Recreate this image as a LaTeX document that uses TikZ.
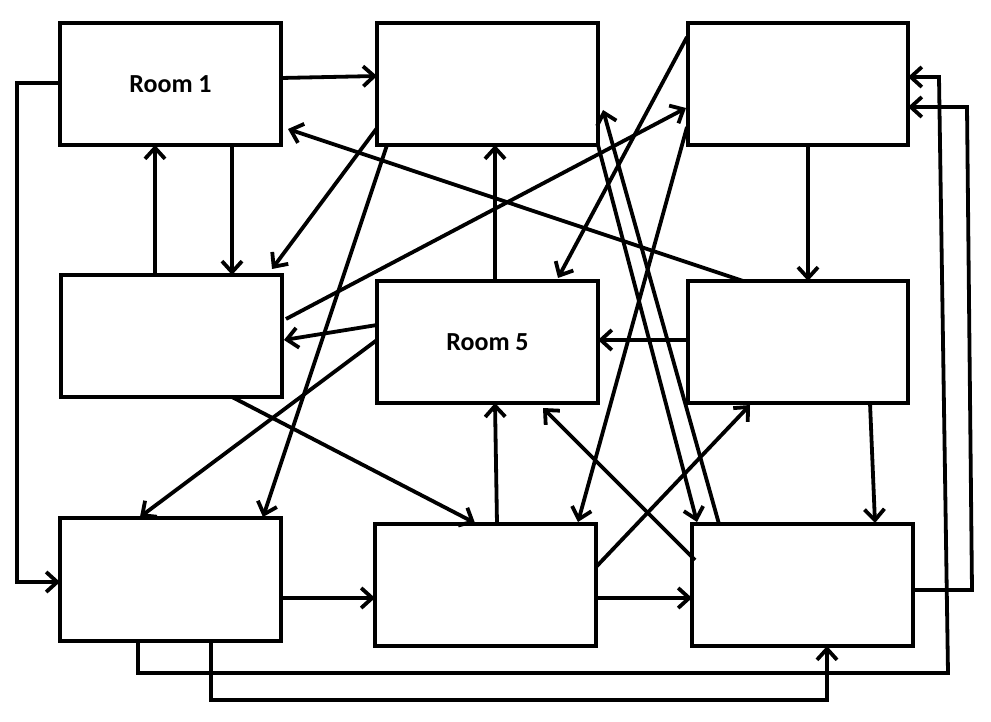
\documentclass[tikz,border=0pt]{standalone}
\usepackage{fontspec}
\setmainfont{Carlito}
\usetikzlibrary{arrows.meta,calc}
\begin{document}
\begin{tikzpicture}[x=1pt,y=-1pt,
  room/.style={draw,line width=3.8pt,minimum width=221pt,minimum height=122pt,outer sep=0pt,
    font=\bfseries\fontsize{26}{30}\selectfont,inner sep=0pt},
  conn/.style={line width=3.8pt,line join=miter},
  arr/.style={conn,-{Straight Barb[length=11pt,width=20pt,line join=miter]}}]
\useasboundingbox[fill=white] (0,0) rectangle (991,722);
\node[room] (B1) at (170.5,84) {Room 1};
\node[room] (B2) at (487.5,84) {};
\node[room,minimum width=220pt] (B3) at (798,84) {};
\node[room] (B4) at (171.5,336) {};
\node[room] (B5) at (487.5,342) {Room 5};
\node[room,minimum width=220pt] (B6) at (798,342) {};
\node[room,minimum height=123pt] (B7) at (170.5,579.5) {};
\node[room] (B8) at (485.5,585) {};
\node[room] (B9) at (802.5,585) {};
% 1
\draw[arr] ($(B1.north east)+(0,55)$) -- ($(B2.north west)+(0,53)$);
% 2
\draw[arr] ($(B1.north west)+(0,60)$) -- ++(-43,0) |- ($(B7.north west)+(0,64)$);
% 3, 4
\draw[arr] ($(B1.south west)+(172,0)$) -- ($(B4.north west)+(171,0)$);
\draw[arr] ($(B4.north west)+(94,0)$) -- ($(B1.south west)+(95,0)$);
% 5
\draw[arr] ($(B6.north west)+(55,0)$) -- ($(B1.south east)+(7,-16)$);
% 6, 7
\draw[arr] ($(B2.south west)+(0,-17)$) -- ($(B4.north west)+(211,-6)$);
\draw[arr] ($(B2.south west)+(10,0)$) -- ($(B7.north west)+(203,-1)$);
% 8
\draw[arr] ($(B4.north east)+(4,44)$) -- ($(B3.north west)+(-2,85)$);
% 9, 10
\draw[arr] ($(B5.north west)+(0,44)$) -- ($(B4.north east)+(2,65)$);
\draw[arr] ($(B5.north west)+(0,59)$) -- ($(B7.north west)+(80,-1)$);
% 11
\draw[arr] ($(B4.south west)+(171,0)$) -- ($(B8.north west)+(100,-1)$);
% 12, 13
\draw[arr] ($(B5.north west)+(118,0)$) -- ($(B2.south west)+(118,0)$);
\draw[arr] ($(B8.north west)+(122,0)$) -- ($(B5.south west)+(118,0)$);
% 14, 15
\draw[arr] ($(B3.north west)+(-1,14)$) -- ($(B5.north west)+(181,-3)$);
\draw[arr] ($(B3.north west)+(-1,104)$) -- ($(B8.north west)+(203,-2)$);
% 16, 17
\draw[arr] (B2.south east) -- ($(B9.north west)+(5,-2)$);
\draw[arr] ($(B9.north west)+(27,0)$) -- ($(B2.north east)+(5,87)$);
% 18, 19, 20
\draw[arr] ($(B3.south west)+(120,0)$) -- ($(B6.north west)+(120,0)$);
\draw[arr] ($(B6.north west)+(0,59)$) -- ($(B5.north east)+(0,59)$);
\draw[arr] ($(B6.south west)+(182,0)$) -- ($(B9.north west)+(183,-1)$);
% 21, 22
\draw[arr] ($(B8.north east)+(0,43)$) -- ($(B6.south west)+(62,2)$);
\draw[arr] ($(B9.north west)+(3,36)$) -- ($(B5.south west)+(166,5)$);
% 23, 24
\draw[arr] ($(B7.north east)+(0,80)$) -- ($(B8.north west)+(0,74)$);
\draw[arr] ($(B8.north east)+(0,74)$) -- ($(B9.north west)+(0,74)$);
% 25
\draw[arr] ($(B9.north east)+(0,66)$) -- ++(59,0) -- ++(-5,-483) -- ($(B3.north east)+(0,84)$);
% 26
\draw[arr] ($(B7.south west)+(78,0)$) -- ++(0,32) -- ++(810,0) -- ++(-9,-596) -- ($(B3.north east)+(0,54)$);
% 27
\draw[arr] ($(B7.south west)+(151,0)$) -- ++(0,59) -- ++(616,0) -- ($(B9.south west)+(135,0)$);
\end{tikzpicture}
\end{document}
